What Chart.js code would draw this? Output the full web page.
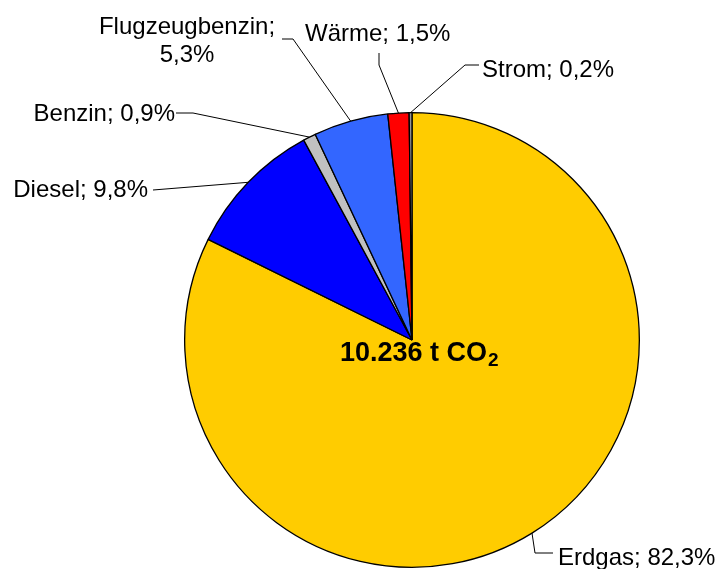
<!DOCTYPE html>
<html>
<head>
<meta charset="utf-8">
<script src="https://cdn.jsdelivr.net/npm/chart.js@4/dist/chart.umd.min.js"></script>
<style>
  html, body { margin: 0; padding: 0; background: #fff; }
  #wrap { width: 722px; height: 569px; position: relative; }
</style>
</head>
<body>
<div id="wrap"><canvas id="co2_chart"></canvas></div>
<script>
// Daten
var categories = ['Erdgas', 'Diesel', 'Benzin', 'Flugzeugbenzin', 'Wärme', 'Strom'];
var shares = [82.3, 9.8, 0.9, 5.3, 1.5, 0.2];
var sliceColors = ['#FFCC00', '#0000FF', '#C0C0C0', '#3366FF', '#FF0000', '#969696'];
var totalLabel = '10.236 t CO';

// Beschriftungen: Position der Texte und Knickpunkte der Linien
var labelLayout = [
    { x: 558, y: 565, align: 'left',   start: [553, 553], knee: [535, 553] },
    { x: 148, y: 197, align: 'right',  start: [153, 190], knee: [153, 190] },
    { x: 175, y: 121, align: 'right',  start: [176, 113], knee: [193, 113] },
    { x: 187, y: 34,  align: 'center', start: [282, 39],  knee: [293, 39], twoLines: true },
    { x: 305, y: 41,  align: 'left',   start: [379, 53],  knee: [379, 65] },
    { x: 482, y: 77,  align: 'left',   start: [479, 65],  knee: [465, 65] }
];

function fmt(v) {
    return v.toFixed(1).replace('.', ',') + '%';
}

var labelPlugin = {
    id: 'pieLabels',
    afterDatasetsDraw: function(chart) {
        var ctx = chart.ctx;
        var arcs = chart.getDatasetMeta(0).data;
        ctx.save();
        ctx.strokeStyle = '#000';
        ctx.lineWidth = 1;
        ctx.fillStyle = '#000';
        ctx.font = '24px "Liberation Sans", Arial, sans-serif';
        ctx.textBaseline = 'alphabetic';
        arcs.forEach(function(arc, i) {
            var lay = labelLayout[i];
            var mid = (arc.startAngle + arc.endAngle) / 2;
            var ex = arc.x + Math.cos(mid) * arc.outerRadius;
            var ey = arc.y + Math.sin(mid) * arc.outerRadius;
            ctx.beginPath();
            ctx.moveTo(lay.start[0], lay.start[1]);
            ctx.lineTo(lay.knee[0], lay.knee[1]);
            ctx.lineTo(ex, ey);
            ctx.stroke();

            ctx.textAlign = lay.align;
            if (lay.twoLines) {
                ctx.fillText(categories[i] + ';', lay.x, lay.y);
                ctx.fillText(fmt(shares[i]), lay.x, lay.y + 28);
            } else {
                ctx.fillText(categories[i] + '; ' + fmt(shares[i]), lay.x, lay.y);
            }
        });

        // Summe in der Mitte
        ctx.textAlign = 'left';
        ctx.font = 'bold 27px "Liberation Sans", Arial, sans-serif';
        ctx.fillText(totalLabel, 340, 361);
        var w = ctx.measureText(totalLabel).width;
        ctx.font = 'bold 19px "Liberation Sans", Arial, sans-serif';
        ctx.fillText('2', 340 + w + 1, 366);
        ctx.restore();
    }
};

var co2_chart = new Chart(document.getElementById('co2_chart'), {
    type: 'pie',
    data: {
        labels: categories,
        datasets: [{
            data: shares,
            backgroundColor: sliceColors,
            borderColor: '#000',
            borderWidth: 1.3,
        }]
    },
    options: {
        responsive: true,
        maintainAspectRatio: false,
        animation: false,
        layout: {
            padding: { left: 184, right: 82, top: 112, bottom: 1 }
        },
        plugins: {
            legend: { display: false },
            tooltip: { enabled: false },
        }
    },
    plugins: [labelPlugin]
});
</script>
</body>
</html>
